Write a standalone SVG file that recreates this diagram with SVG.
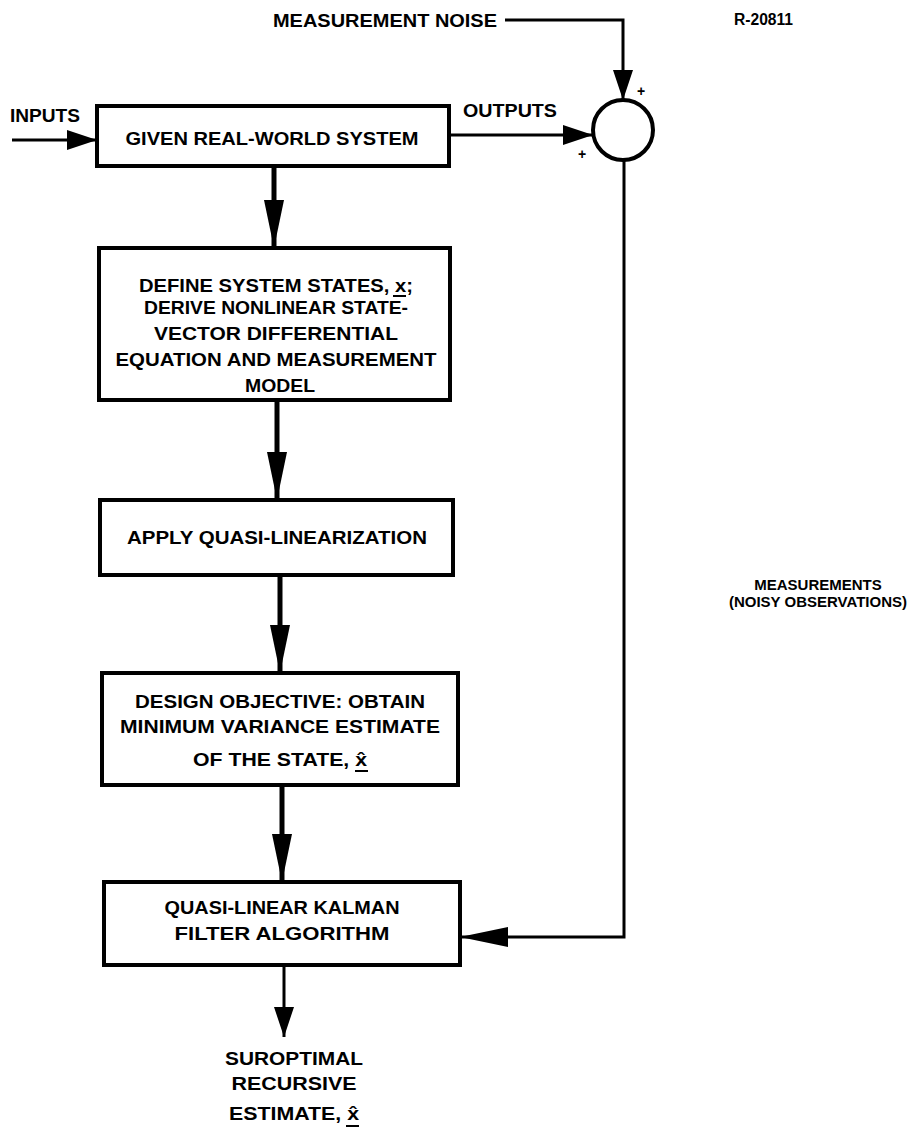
<svg xmlns="http://www.w3.org/2000/svg" width="917" height="1133" viewBox="0 0 917 1133">
<style>
text{font-family:"Liberation Sans",Arial,Helvetica,sans-serif;font-weight:bold;fill:#000;font-size:18px}
.c{text-anchor:middle}
.box{fill:#fff;stroke:#000;stroke-width:4}
.thick{stroke:#000;stroke-width:5;fill:none}
.thin{stroke:#000;stroke-width:3;fill:none}
.plus{font-size:14px}
.side{font-size:15px}
</style>
<defs>
<marker id="ah" markerUnits="userSpaceOnUse" markerWidth="48" markerHeight="22" viewBox="0 0 48 22" refX="48" refY="11" orient="auto">
<path d="M0,1 L48,11 L0,21 z" fill="#000"/>
</marker>
<marker id="as" markerUnits="userSpaceOnUse" markerWidth="30" markerHeight="22" viewBox="0 0 30 22" refX="30" refY="11" orient="auto">
<path d="M0,1 L30,11 L0,21 z" fill="#000"/>
</marker>
</defs>

<g id="connectors">
<line class="thin" x1="12" y1="140" x2="97" y2="140" marker-end="url(#as)"/>
<line class="thin" x1="449" y1="135" x2="593" y2="135" marker-end="url(#as)"/>
<path class="thin" d="M505,20 H623 V100" marker-end="url(#as)"/>
<path class="thin" d="M624,160 V937 H460" marker-end="url(#ah)"/>
<line class="thick" x1="274" y1="166" x2="274" y2="248" marker-end="url(#ah)"/>
<line class="thick" x1="277" y1="400" x2="277" y2="500" marker-end="url(#ah)"/>
<line class="thick" x1="280" y1="575" x2="280" y2="673" marker-end="url(#ah)"/>
<line class="thick" x1="282" y1="785" x2="282" y2="882" marker-end="url(#ah)"/>
<line class="thin" x1="284" y1="965" x2="284" y2="1037" marker-end="url(#as)"/>
</g>

<g id="labels">
<text x="273" y="27" textLength="224" lengthAdjust="spacingAndGlyphs">MEASUREMENT NOISE</text>
<text x="734" y="25" textLength="59" lengthAdjust="spacingAndGlyphs" style="font-size:16px">R-20811</text>
<text x="10" y="122" textLength="70" lengthAdjust="spacingAndGlyphs">INPUTS</text>
<text x="463" y="117" textLength="94" lengthAdjust="spacingAndGlyphs">OUTPUTS</text>
<text class="plus" x="637" y="96">+</text>
<text class="plus" x="578" y="159">+</text>
<text class="c side" x="818" y="590">MEASUREMENTS</text>
<text class="c side" x="818" y="607">(NOISY OBSERVATIONS)</text>
</g>

<g id="sum">
<circle cx="623" cy="130" r="30" fill="#fff" stroke="#000" stroke-width="4"/>
</g>

<g id="system">
<rect class="box" x="97" y="106" width="352" height="60"/>
<text class="c" x="272" y="145" textLength="293" lengthAdjust="spacingAndGlyphs">GIVEN REAL-WORLD SYSTEM</text>
</g>

<g id="define">
<rect class="box" x="99" y="248" width="351" height="152"/>
<text class="c" x="276" y="292" textLength="274" lengthAdjust="spacingAndGlyphs">DEFINE SYSTEM STATES, x;</text>
<line x1="393" y1="296" x2="406" y2="296" stroke="#000" stroke-width="2"/>
<text class="c" x="276" y="314" textLength="264" lengthAdjust="spacingAndGlyphs">DERIVE NONLINEAR STATE-</text>
<text class="c" x="276" y="340" textLength="244" lengthAdjust="spacingAndGlyphs">VECTOR DIFFERENTIAL</text>
<text class="c" x="276" y="366" textLength="321" lengthAdjust="spacingAndGlyphs">EQUATION AND MEASUREMENT</text>
<text class="c" x="280" y="392" textLength="70" lengthAdjust="spacingAndGlyphs">MODEL</text>
</g>

<g id="quasi">
<rect class="box" x="100" y="500" width="353" height="75"/>
<text class="c" x="277" y="544" textLength="300" lengthAdjust="spacingAndGlyphs">APPLY QUASI-LINEARIZATION</text>
</g>

<g id="objective">
<rect class="box" x="102" y="673" width="356" height="112"/>
<text class="c" x="280" y="708" textLength="290" lengthAdjust="spacingAndGlyphs">DESIGN OBJECTIVE: OBTAIN</text>
<text class="c" x="280" y="733" textLength="320" lengthAdjust="spacingAndGlyphs">MINIMUM VARIANCE ESTIMATE</text>
<text class="c" x="280" y="766" textLength="174" lengthAdjust="spacingAndGlyphs">OF THE STATE, x̂</text>
<line x1="355" y1="771" x2="368" y2="771" stroke="#000" stroke-width="2"/>
</g>

<g id="kalman">
<rect class="box" x="104" y="882" width="356" height="83"/>
<text class="c" x="282" y="914" textLength="235" lengthAdjust="spacingAndGlyphs">QUASI-LINEAR KALMAN</text>
<text class="c" x="282" y="940" textLength="215" lengthAdjust="spacingAndGlyphs">FILTER ALGORITHM</text>
</g>

<g id="estimate">
<text class="c" x="294" y="1065" textLength="138" lengthAdjust="spacingAndGlyphs">SUROPTIMAL</text>
<text class="c" x="294" y="1090" textLength="125" lengthAdjust="spacingAndGlyphs">RECURSIVE</text>
<text class="c" x="294" y="1120" textLength="130" lengthAdjust="spacingAndGlyphs">ESTIMATE, x̂</text>
<line x1="346" y1="1126" x2="359" y2="1126" stroke="#000" stroke-width="2"/>
</g>
</svg>
